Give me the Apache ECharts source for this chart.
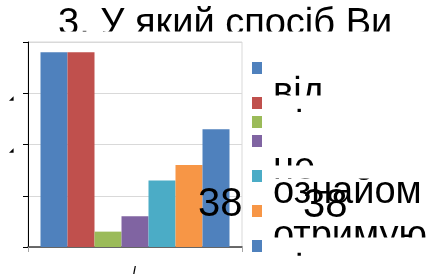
<!DOCTYPE html>
<html>
<head>
<meta charset="utf-8">
<script src="https://cdn.jsdelivr.net/npm/echarts@6/dist/echarts.min.js"></script>
<style>
  html, body { margin: 0; padding: 0; background: #fff; }
  #main { width: 442px; height: 276px; }
</style>
</head>
<body>
<div id="main"></div>
<script>
// chart data
var categories = ['1'];
var seriesNames = ['від', 'варіант 2', 'варіант 3', 'не', 'ознайом', 'отримую', 'варіант 7'];
var values = [38, 38, 3, 6, 13, 16, 23];
var colors = ['#4F81BD', '#C0504D', '#9BBB59', '#8064A2', '#4BACC6', '#F79646', '#4F81BD'];
var yMin = 0, yMax = 40, yStep = 10;
var titleText = '3. У який спосіб Ви';

var FONT = '"Liberation Sans", Arial, sans-serif';
var chart = echarts.init(document.getElementById('main'));

// text is drawn with verticalAlign middle, so convert a baseline to a middle y
function mid(baseline, size) {
  return baseline - 0.22 * size;
}

function bigText(str, x, baseline, size, z, weight) {
  return {
    type: 'text', z: z || 10,
    style: {
      text: str, x: x, y: mid(baseline, size),
      font: (weight || 'normal') + ' ' + size + 'px ' + FONT, fill: '#000',
      align: 'left', verticalAlign: 'middle'
    }
  };
}

function whiteBox(x, y, w, h) {
  return {
    type: 'rect', z: 20,
    shape: { x: x, y: y, width: w, height: h },
    style: { fill: '#fff' }
  };
}

var legendTops = [62, 97, 116, 135, 170, 205, 240];
var legends = seriesNames.map(function (name, i) {
  return {
    data: [name],
    left: 252, top: legendTops[i],
    padding: 0,
    itemWidth: 10, itemHeight: 12,
    icon: 'rect',
    selectedMode: false,
    formatter: function () { return ''; },
    textStyle: { fontSize: 8 }
  };
});

var series = seriesNames.map(function (name, i) {
  return {
    name: name,
    type: 'bar',
    data: [values[i]],
    barWidth: 27,
    barGap: '0%',
    itemStyle: { color: colors[i] },
    animation: false
  };
});

var option = {
  animation: false,
  color: colors,
  grid: {
    left: 28, right: 200, top: 42, bottom: 29,
    show: true, borderColor: '#d9d9d9', borderWidth: 1
  },
  legend: legends,
  xAxis: {
    type: 'category',
    data: categories,
    axisLine: { lineStyle: { color: '#404040', width: 1.5 } },
    axisTick: { show: true, length: 5, lineStyle: { color: '#a6a6a6' } },
    axisLabel: { show: false }
  },
  yAxis: {
    type: 'value',
    min: yMin, max: yMax, interval: yStep,
    axisLine: { show: true, lineStyle: { color: '#000', width: 1 } },
    axisTick: { show: true, length: 5, lineStyle: { color: '#000' } },
    axisLabel: { show: false },
    splitLine: { lineStyle: { color: '#d9d9d9' } }
  },
  series: series,
  graphic: [
    // title, cut off at its bottom
    bigText(titleText, 58, 32.5, 38),
    whiteBox(0, 31.5, 442, 9.5),
    // legend captions, each showing only its top band
    bigText('від', 273, 102, 38),
    bigText('і', 295, 135.2, 38),
    bigText('не', 273, 177, 38),
    bigText('ознайом', 273, 201, 38),
    bigText('отримую', 273, 245, 38),
    bigText('і', 295, 279, 38),
    whiteBox(268, 95.5, 174, 12.8),
    whiteBox(302, 107, 140, 6),
    whiteBox(268, 112.3, 174, 43.2),
    whiteBox(268, 165.5, 174, 13),
    whiteBox(268, 203.5, 174, 21),
    whiteBox(268, 237.5, 174, 14.5),
    whiteBox(302, 251, 140, 5),
    whiteBox(268, 255.8, 174, 20.2),
    // fragments of the clipped axis labels
    bigText('◢', 9, 100, 6, 30),
    bigText('◢', 9, 152, 6, 30),
    // value labels
    bigText(String(values[0]), 198, 214, 40, 30),
    bigText(String(values[1]), 303, 215, 40, 30),
    // fragment of the category label
    bigText('/', 133, 273, 11, 30, 'bold')
  ]
};

chart.setOption(option);
</script>
</body>
</html>
